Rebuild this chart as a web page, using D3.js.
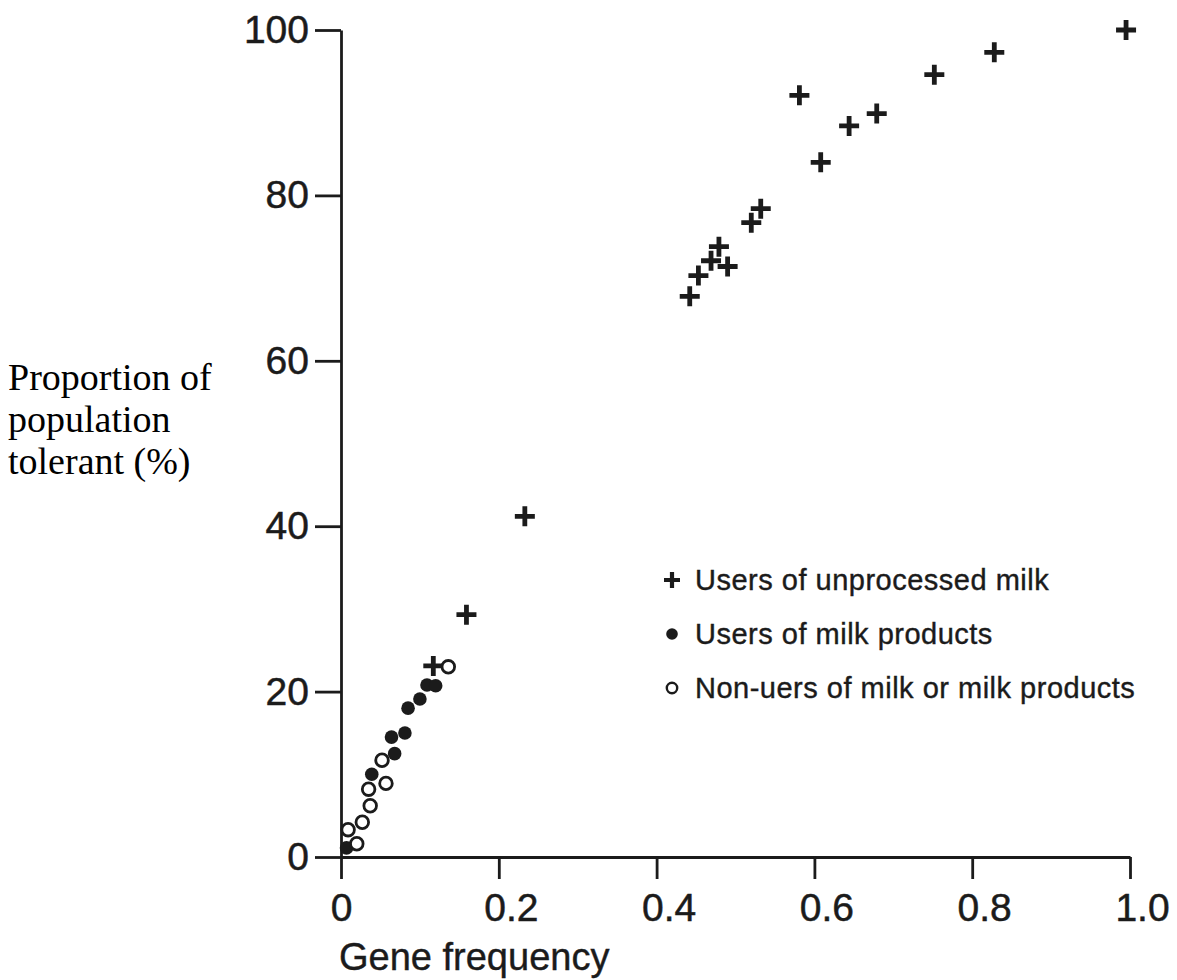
<!DOCTYPE html>
<html>
<head>
<meta charset="utf-8">
<script src="https://cdn.jsdelivr.net/npm/d3@7"></script>
<style>
  body { margin: 0; background: #fff; }
  svg { display: block; }
</style>
</head>
<body>
<div id="chart"></div>
<script>
// values
const unprocessedX = [0.117, 0.159, 0.233, 0.442, 0.453, 0.469, 0.479, 0.490, 0.520, 0.532, 0.581, 0.608, 0.644, 0.679, 0.752, 0.828, 0.995]
const unprocessedY = [23.1, 29.3, 41.2, 67.8, 70.3, 72.1, 73.8, 71.4, 76.7, 78.4, 92.1, 84.0, 88.4, 89.9, 94.6, 97.3, 100]

const productsX = [0.007, 0.039, 0.068, 0.064, 0.081, 0.085, 0.100, 0.109, 0.120]
const productsY = [1.1, 10.0, 12.5, 14.5, 15.0, 18.0, 19.1, 20.8, 20.7]

const nonUsersX = [0.009, 0.020, 0.027, 0.037, 0.035, 0.057, 0.052, 0.136]
const nonUsersY = [3.3, 1.6, 4.2, 6.2, 8.2, 8.9, 11.7, 23.0]

const xTicks = [0, 0.2, 0.4, 0.6, 0.8, 1.0]
const yTicks = [0, 20, 40, 60, 80, 100]

const legendLabels = ['Users of unprocessed milk', 'Users of milk products', 'Non-uers of milk or milk products']
const yTitle = ['Proportion of', 'population', 'tolerant (%)']

const w = 1177
const h = 980
const ink = '#1b1b1b'

const svg = d3.select('#chart')
  .append('svg')
  .attr('width', w)
  .attr('height', h)

const x = d3.scaleLinear().domain([0, 1]).range([341, 1130])
const y = d3.scaleLinear().domain([0, 100]).range([857, 30])

/*
 * Axes
 */
const xAxis = svg.append('g')
  .attr('transform', `translate(0,${y(0)})`)
  .call(d3.axisBottom(x)
    .tickValues(xTicks)
    .tickSize(22)
    .tickSizeOuter(0)
    .tickPadding(14)
    .tickFormat(d => d === 0 ? '0' : d.toFixed(1)))

const yAxis = svg.append('g')
  .attr('transform', `translate(${x(0)},0)`)
  .call(d3.axisLeft(y)
    .tickValues(yTicks)
    .tickSize(26)
    .tickSizeOuter(0)
    .tickPadding(6)
    .tickFormat(d3.format('d')))

svg.selectAll('.domain, .tick line')
  .attr('stroke', ink)
  .attr('stroke-width', 2.8)

// scanned print looks a bit heavier than plain regular weight
svg.selectAll('.tick text')
  .attr('fill', ink)
  .attr('stroke', ink)
  .attr('stroke-width', 0.5)
  .style('font-family', 'Liberation Sans, Arial, sans-serif')
  .style('font-size', '39px')

// the decimal labels sit a little right of their ticks in the original
xAxis.selectAll('.tick text')
  .attr('dx', d => d === 0 ? 0 : 12)

svg.append('text')
  .attr('x', x(0) - 2)
  .attr('y', 970)
  .attr('fill', ink)
  .attr('stroke', ink)
  .attr('stroke-width', 0.4)
  .style('font-family', 'Liberation Sans, Arial, sans-serif')
  .style('font-size', '38px')
  .text('Gene frequency')

svg.append('text')
  .attr('x', 8)
  .attr('y', 390)
  .style('font-family', 'Liberation Serif, Times New Roman, serif')
  .style('font-size', '38px')
  .selectAll('tspan')
  .data(yTitle)
  .enter()
  .append('tspan')
  .attr('x', 8)
  .attr('dy', (d, i) => i === 0 ? 0 : 42)
  .text(d => d)

/*
 * Marks
 */
const crossPath = 'M-10,0H10M0,-10V10'

svg.append('g')
  .selectAll('path')
  .data(unprocessedX.map((v, i) => [v, unprocessedY[i]]))
  .enter()
  .append('path')
  .attr('d', crossPath)
  .attr('transform', d => `translate(${x(d[0])},${y(d[1])})`)
  .attr('stroke', ink)
  .attr('stroke-width', 4.8)

svg.append('g')
  .selectAll('circle')
  .data(productsX.map((v, i) => [v, productsY[i]]))
  .enter()
  .append('circle')
  .attr('cx', d => x(d[0]))
  .attr('cy', d => y(d[1]))
  .attr('r', 6.8)
  .attr('fill', ink)

svg.append('g')
  .selectAll('circle')
  .data(nonUsersX.map((v, i) => [v, nonUsersY[i]]))
  .enter()
  .append('circle')
  .attr('cx', d => x(d[0]))
  .attr('cy', d => y(d[1]))
  .attr('r', 6.3)
  .attr('fill', '#fff')
  .attr('stroke', ink)
  .attr('stroke-width', 2.8)

/*
 * Legend
 */
const legend = svg.append('g')
  .attr('transform', 'translate(672,580)')

const rows = legend.selectAll('g')
  .data(legendLabels)
  .enter()
  .append('g')
  .attr('transform', (d, i) => `translate(0,${i * 54})`)

rows.filter((d, i) => i === 0)
  .append('path')
  .attr('d', 'M-8,0H8M0,-8V8')
  .attr('stroke', ink)
  .attr('stroke-width', 4.2)

rows.filter((d, i) => i === 1)
  .append('circle')
  .attr('r', 5.8)
  .attr('fill', ink)

rows.filter((d, i) => i === 2)
  .append('circle')
  .attr('r', 5.2)
  .attr('fill', '#fff')
  .attr('stroke', ink)
  .attr('stroke-width', 2.4)

rows.append('text')
  .attr('x', 23)
  .attr('dy', '0.36em')
  .attr('fill', ink)
  .attr('stroke', ink)
  .attr('stroke-width', 0.4)
  .style('font-family', 'Liberation Sans, Arial, sans-serif')
  .style('font-size', '29px')
  .style('letter-spacing', '0.5px')
  .text(d => d)
</script>
</body>
</html>
